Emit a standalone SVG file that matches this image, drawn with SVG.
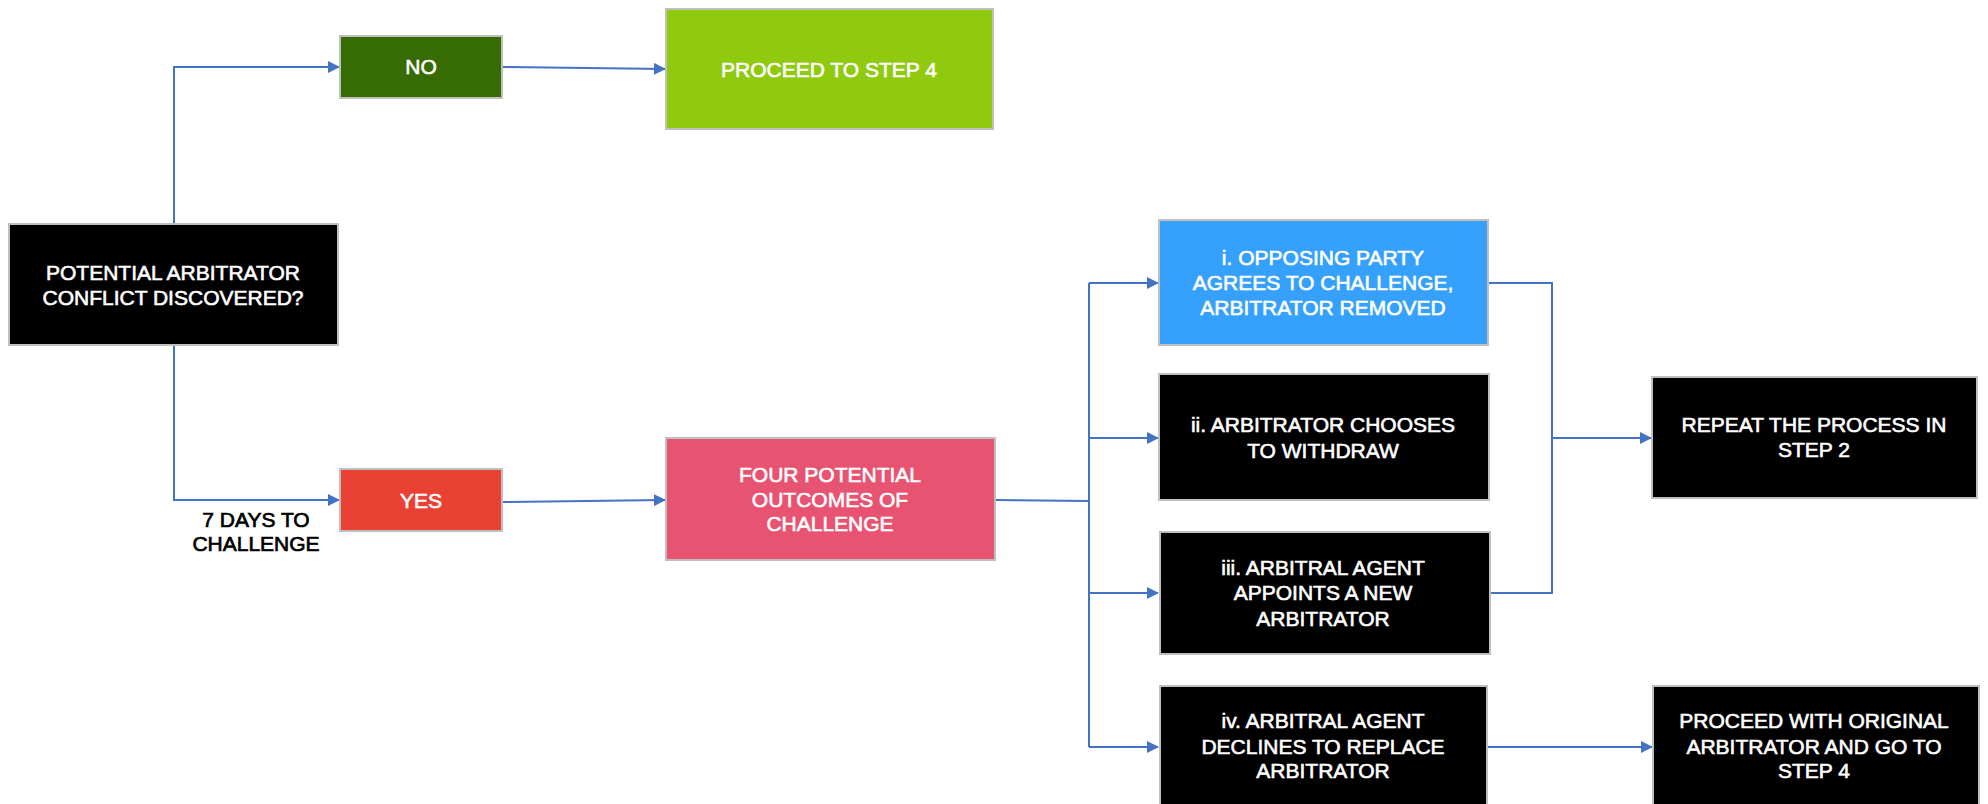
<svg xmlns="http://www.w3.org/2000/svg" width="1988" height="804" viewBox="0 0 1988 804">
<defs>
<marker id="arr" markerUnits="userSpaceOnUse" markerWidth="12" markerHeight="12" refX="11" refY="6" orient="auto">
<path d="M0,0 L12,6 L0,12 Z" fill="#4472c4"/>
</marker>
<style>
.box{stroke:#bfbfbf;stroke-width:2}
.t{font-family:"Liberation Sans",Arial,sans-serif;font-size:21px;fill:#fff;stroke:#fff;stroke-width:0.6;text-anchor:middle}
.lbl{font-family:"Liberation Sans",Arial,sans-serif;font-size:21px;fill:#000;stroke:#000;stroke-width:0.7;text-anchor:middle}
.c{fill:none;stroke:#4472c4;stroke-width:2}
</style>
</defs>
<rect width="1988" height="804" fill="#fff"/>
<g id="connectors">
<polyline class="c" points="174,224 174,67 339,67" marker-end="url(#arr)"/>
<polyline class="c" points="174,346 174,500 339,500" marker-end="url(#arr)"/>
<line class="c" x1="502" y1="67" x2="665" y2="69" marker-end="url(#arr)"/>
<line class="c" x1="502" y1="502" x2="665" y2="500" marker-end="url(#arr)"/>
<polyline class="c" points="995,500 1089,501"/>
<line class="c" x1="1089" y1="283" x2="1089" y2="747"/>
<line class="c" x1="1089" y1="283" x2="1158" y2="283" marker-end="url(#arr)"/>
<line class="c" x1="1089" y1="438" x2="1158" y2="438" marker-end="url(#arr)"/>
<line class="c" x1="1089" y1="593" x2="1158" y2="593" marker-end="url(#arr)"/>
<line class="c" x1="1089" y1="747" x2="1158" y2="747" marker-end="url(#arr)"/>
<polyline class="c" points="1488,283 1552,283 1552,593 1490,593"/>
<line class="c" x1="1552" y1="438" x2="1651" y2="438" marker-end="url(#arr)"/>
<line class="c" x1="1488" y1="747" x2="1652" y2="747" marker-end="url(#arr)"/>
</g>
<g id="conflict">
<rect class="box" x="9" y="224" width="329" height="121" fill="#000"/>
<text class="t" x="173" y="280" font-size="22">POTENTIAL ARBITRATOR</text>
<text class="t" x="173" y="305" font-size="22">CONFLICT DISCOVERED?</text>
</g>
<g id="no">
<rect class="box" x="340" y="36" width="162" height="62" fill="#376b03"/>
<text class="t" x="421" y="74">NO</text>
</g>
<g id="proceed4">
<rect class="box" x="666" y="9" width="327" height="120" fill="#8fca0f"/>
<text class="t" x="829" y="77">PROCEED TO STEP 4</text>
</g>
<g id="yes">
<rect class="box" x="340" y="469" width="162" height="62" fill="#e94235"/>
<text class="t" x="421" y="508">YES</text>
</g>
<g id="label7days">
<text class="lbl" x="256" y="527">7 DAYS TO</text>
<text class="lbl" x="256" y="551">CHALLENGE</text>
</g>
<g id="four">
<rect class="box" x="666" y="438" width="329" height="122" fill="#e85372"/>
<text class="t" x="830" y="482">FOUR POTENTIAL</text>
<text class="t" x="830" y="507">OUTCOMES OF</text>
<text class="t" x="830" y="531">CHALLENGE</text>
</g>
<g id="opt1">
<rect class="box" x="1159" y="220" width="329" height="125" fill="#36a1fc"/>
<text class="t" x="1323" y="265">i. OPPOSING PARTY</text>
<text class="t" x="1323" y="290">AGREES TO CHALLENGE,</text>
<text class="t" x="1323" y="315">ARBITRATOR REMOVED</text>
</g>
<g id="opt2">
<rect class="box" x="1159" y="374" width="330" height="126" fill="#000"/>
<text class="t" x="1323" y="432">ii. ARBITRATOR CHOOSES</text>
<text class="t" x="1323" y="458">TO WITHDRAW</text>
</g>
<g id="opt3">
<rect class="box" x="1160" y="532" width="330" height="122" fill="#000"/>
<text class="t" x="1323" y="575">iii. ARBITRAL AGENT</text>
<text class="t" x="1323" y="600">APPOINTS A NEW</text>
<text class="t" x="1323" y="626">ARBITRATOR</text>
</g>
<g id="opt4">
<rect class="box" x="1160" y="686" width="327" height="124" fill="#000"/>
<text class="t" x="1323" y="728">iv. ARBITRAL AGENT</text>
<text class="t" x="1323" y="754">DECLINES TO REPLACE</text>
<text class="t" x="1323" y="778">ARBITRATOR</text>
</g>
<g id="repeat">
<rect class="box" x="1652" y="377" width="325" height="121" fill="#000"/>
<text class="t" x="1814" y="432">REPEAT THE PROCESS IN</text>
<text class="t" x="1814" y="457">STEP 2</text>
</g>
<g id="original">
<rect class="box" x="1653" y="686" width="326" height="124" fill="#000"/>
<text class="t" x="1814" y="728">PROCEED WITH ORIGINAL</text>
<text class="t" x="1814" y="754">ARBITRATOR AND GO TO</text>
<text class="t" x="1814" y="778">STEP 4</text>
</g>
</svg>
